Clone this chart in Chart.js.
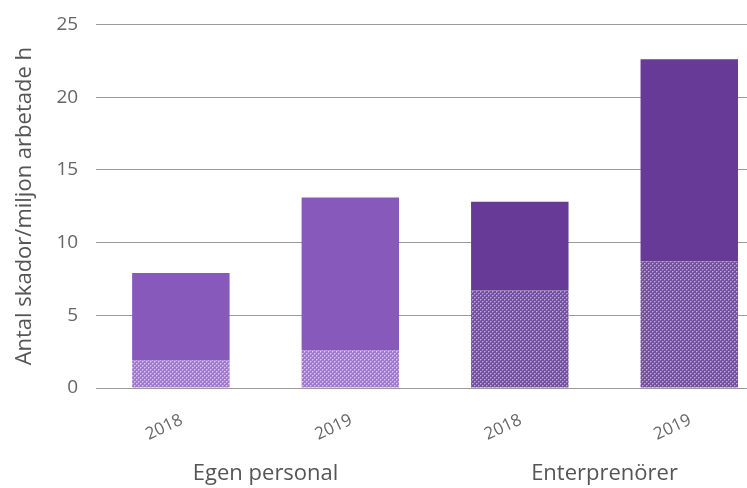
<!DOCTYPE html>
<html><head><meta charset="utf-8">
<script src="https://cdn.jsdelivr.net/npm/chart.js@4/dist/chart.umd.min.js"></script>
<style>html,body{margin:0;padding:0;background:#fff;overflow:hidden;width:747px;height:488px;position:relative}#wrap{position:absolute;left:0;top:-5px;width:774px;height:493px}</style>
</head><body><div id="wrap"><canvas id="c" width="774" height="493"></canvas></div>
<script>
const categories = ['2018', '2019', '2018', '2019'];
const groups = ['Egen personal', 'Enterprenörer'];
const bottomValues = [1.9, 2.6, 6.7, 8.7];
const topValues = [6.0, 10.5, 6.1, 13.9];
const yTicks = [0, 5, 10, 15, 20, 25];

function makePattern(base, dot, mid) {
  const t = document.createElement('canvas');
  t.width = 4; t.height = 4;
  const g = t.getContext('2d');
  g.fillStyle = base; g.fillRect(0, 0, 4, 4);
  g.fillStyle = mid;
  g.fillRect(1, 0, 1, 1); g.fillRect(0, 1, 1, 1); g.fillRect(3, 2, 1, 1); g.fillRect(2, 3, 1, 1);
  g.fillStyle = dot;
  g.fillRect(0, 0, 1, 1); g.fillRect(2, 2, 1, 1);
  return document.getElementById('c').getContext('2d').createPattern(t, 'repeat');
}
const lightTop = '#8659ba';
const darkTop = '#663a96';
const lightPat = makePattern('#a078cd', '#dccaee', '#bd9fde');
const darkPat = makePattern('#714e9f', '#c0b0d6', '#957bb9');

const font = '"Open Sans", sans-serif';
new Chart(document.getElementById('c'), {
  type: 'bar',
  data: {
    labels: categories,
    datasets: [
      { data: bottomValues, backgroundColor: [lightPat, lightPat, darkPat, darkPat], stack: 's' },
      { data: topValues, backgroundColor: [lightTop, lightTop, darkTop, darkTop], stack: 's' }
    ]
  },
  options: {
    responsive: false, animation: false,
    layout: { padding: { top: 5, right: 0, bottom: 0, left: 12 } },
    plugins: { legend: { display: false }, tooltip: { enabled: false } },
    datasets: { bar: { categoryPercentage: 1, barPercentage: 0.575 } },
    scales: {
      x: {
        stacked: true, weight: 0,
        afterFit: (s) => { s.height = 62; },
        grid: { display: false }, border: { display: false },
        ticks: { color: '#666', font: { family: font, size: 17 }, minRotation: 25, maxRotation: 25, padding: 14, labelOffset: 1 }
      },
      x2: {
        type: 'category', labels: groups, offset: true, position: 'bottom', weight: 1,
        afterFit: (s) => { s.height = 38; },
        grid: { display: false }, border: { display: false },
        ticks: { color: '#555', font: { family: font, size: 22 }, padding: 3 }
      },
      y: {
        stacked: true, min: 0, max: 25,
        afterBuildTicks: (s) => { s.ticks = yTicks.map(v => ({ value: v })); },
        grid: { color: '#9a9a9a', lineWidth: 1, drawTicks: false },
        border: { display: false },
        ticks: { color: '#666', font: { family: font, size: 19 }, padding: 18 },
        title: { display: true, text: 'Antal skador/miljon arbetade h', color: '#555', font: { family: font, size: 22 }, padding: 0 }
      }
    }
  }
});
</script></body></html>
